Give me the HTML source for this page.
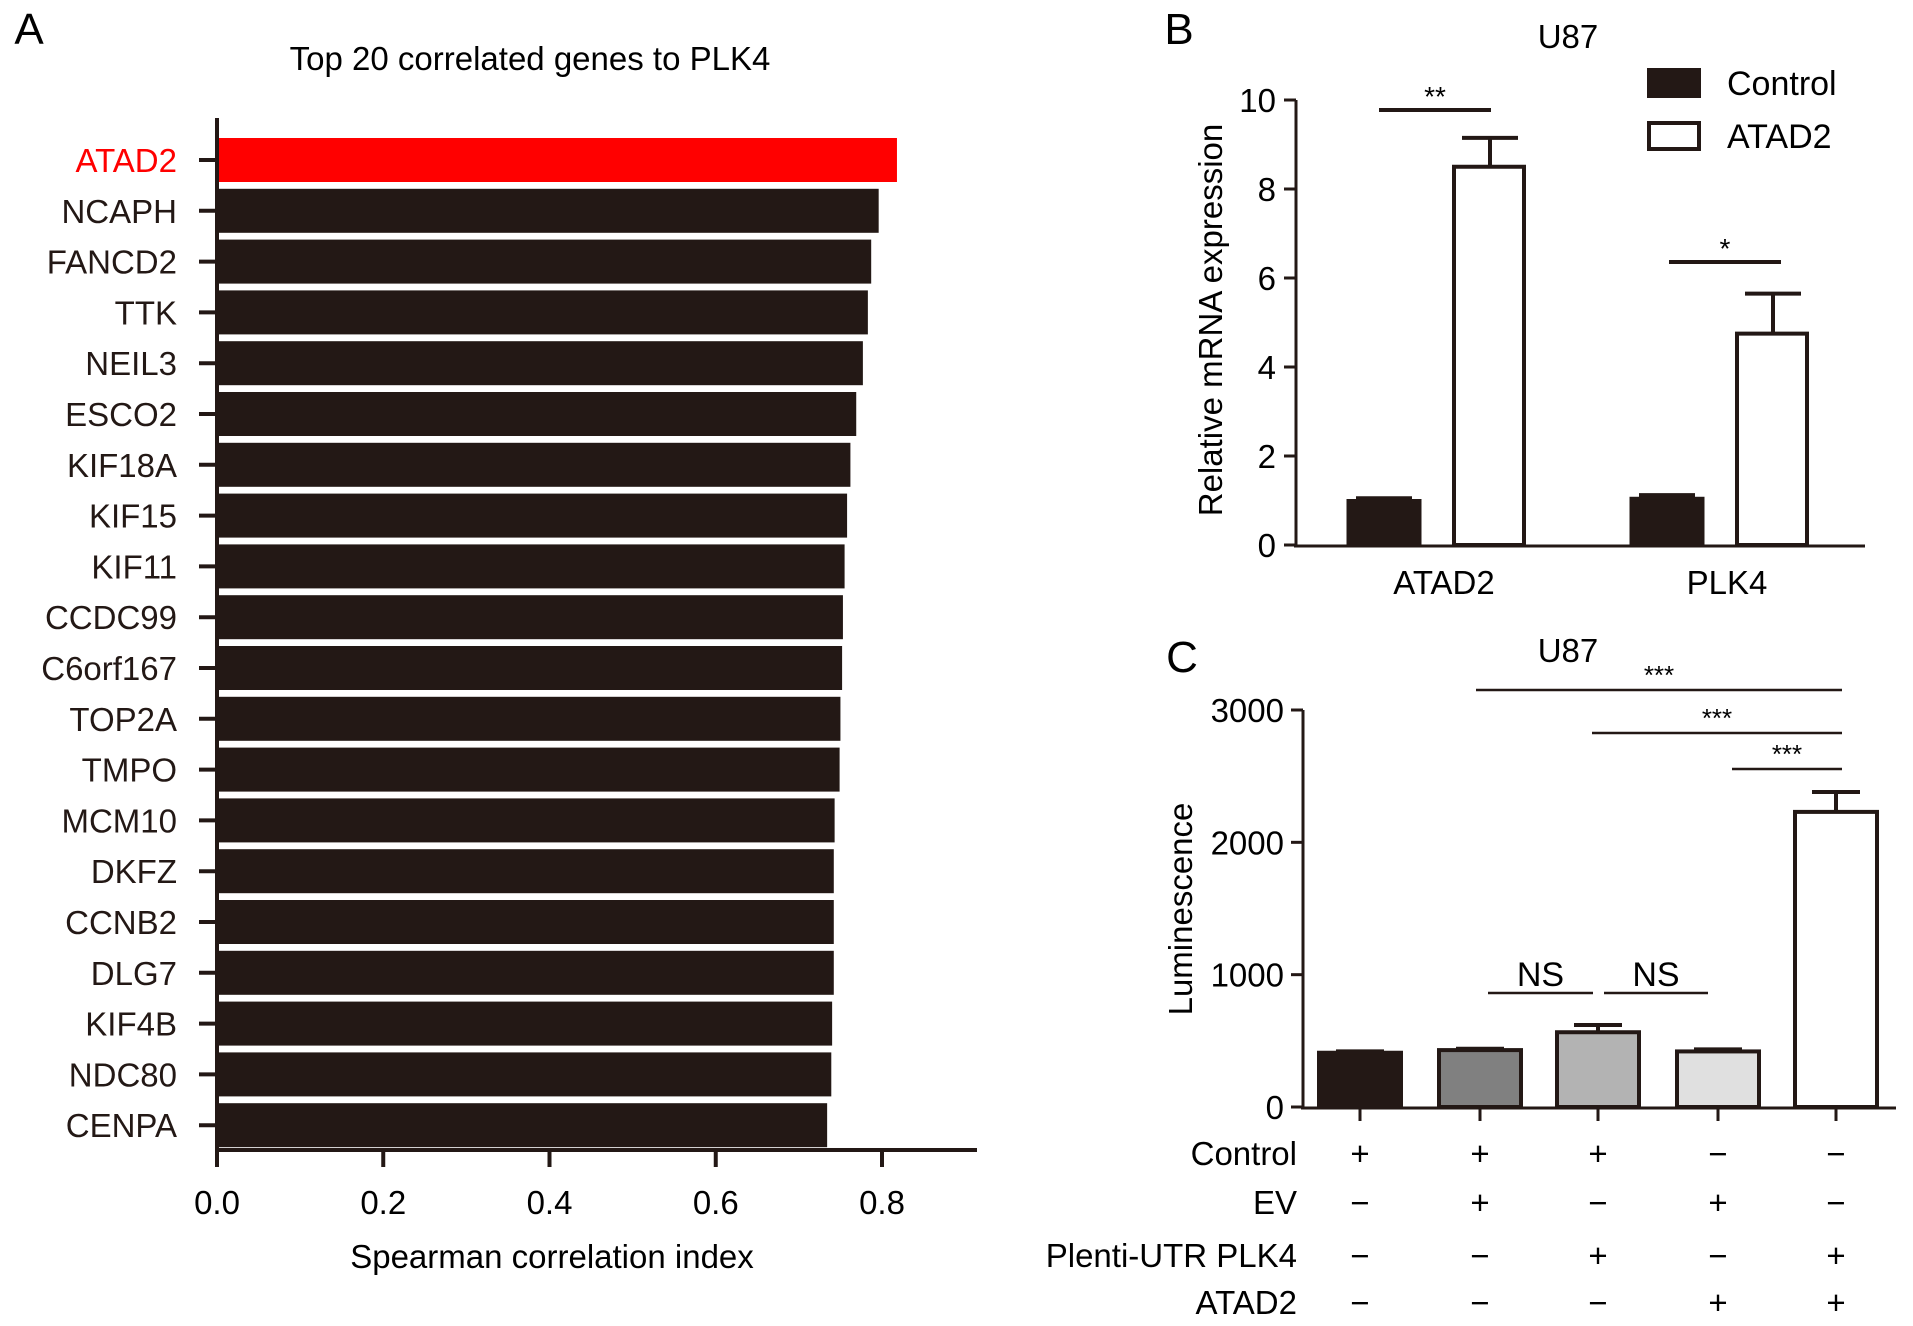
<!DOCTYPE html>
<html><head><meta charset="utf-8"><style>
body{margin:0;background:#fff}
svg{display:block;font-family:"Liberation Sans",Arial,sans-serif}
</style></head><body>
<svg id="fig" width="1913" height="1326" viewBox="0 0 1913 1326">
<g id="A"></g>
<g id="B"></g>
<g id="C"></g>
</svg>
<script>
const genes=["ATAD2","NCAPH","FANCD2","TTK","NEIL3","ESCO2","KIF18A","KIF15","KIF11","CCDC99","C6orf167","TOP2A","TMPO","MCM10","DKFZ","CCNB2","DLG7","KIF4B","NDC80","CENPA"];
const corr=[0.818,0.796,0.787,0.783,0.777,0.769,0.762,0.758,0.755,0.753,0.752,0.750,0.749,0.743,0.742,0.742,0.742,0.740,0.739,0.734];
const corrTicks=[0,0.2,0.4,0.6,0.8];
const bCats=["ATAD2","PLK4"];
const bControl=[1.0,1.05];
const bControlErr=[0.05,0.07];
const bAtad2=[8.5,4.75];
const bAtad2Err=[0.65,0.9];
const bTicks=[0,2,4,6,8,10];
const cValues=[410,430,565,420,2230];
const cErr=[10,10,55,15,150];
const cTicks=[0,1000,2000,3000];
const cRows=["Control","EV","Plenti-UTR PLK4","ATAD2"];
const cSigns=[["+","+","+","−","−"],["−","+","−","+","−"],["−","−","+","−","+"],["−","−","−","+","+"]];
const NS="http://www.w3.org/2000/svg";
const FS=33;
function el(p,t,a,txt){const e=document.createElementNS(NS,t);for(const k in a)e.setAttribute(k,a[k]);if(txt!==undefined)e.textContent=txt;p.appendChild(e);return e;}
// Panel A
const A=document.getElementById('A');
const ax=v=>217+v*(882-217)/0.8;
const ay=i=>160+i*50.8;
let t=el(A,'text',{x:29,y:44,'font-size':44,'text-anchor':'middle'},'A');

t=el(A,'text',{x:530,y:70,'font-size':FS,'text-anchor':'middle'},'Top 20 correlated genes to PLK4');

genes.forEach((g,i)=>{
  const r=el(A,'rect',{x:ax(0),y:ay(i)-22,width:ax(corr[i])-ax(0),height:44,fill:i===0?'#ff0000':'#231815'});
  
  const tk=el(A,'line',{x1:199,x2:217,y1:ay(i),y2:ay(i),stroke:'#231815','stroke-width':4});
  
  const l=el(A,'text',{x:177,y:ay(i)+12,'font-size':FS,'text-anchor':'end',fill:i===0?'#ff0000':'#231815'},g);
  
});
let ln=el(A,'line',{x1:217,x2:217,y1:118,y2:1152,stroke:'#231815','stroke-width':4});

ln=el(A,'line',{x1:215,x2:977,y1:1150,y2:1150,stroke:'#231815','stroke-width':4});

corrTicks.forEach(v=>{
  const tk=el(A,'line',{x1:ax(v),x2:ax(v),y1:1150,y2:1167,stroke:'#231815','stroke-width':4});
  
  const l=el(A,'text',{x:ax(v),y:1214,'font-size':FS,'text-anchor':'middle'},v.toFixed(1));
  
});
t=el(A,'text',{x:552,y:1268,'font-size':FS,'text-anchor':'middle'},'Spearman correlation index');

// Panel B
const B=document.getElementById('B');
const by=v=>545-v*(545-100)/10;
const bCenters=[1437,1720];
t=el(B,'text',{x:1179,y:44,'font-size':44,'text-anchor':'middle'},'B');

t=el(B,'text',{x:1568,y:48,'font-size':FS,'text-anchor':'middle'},'U87');

bCats.forEach((c,i)=>{
  const x1=bCenters[i]-89,x2=bCenters[i]+17;
  let e=el(B,'line',{x1:x1+36,x2:x1+36,y1:by(bControl[i]),y2:by(bControl[i]+bControlErr[i]),stroke:'#231815','stroke-width':4});
  
  e=el(B,'line',{x1:x1+8,x2:x1+64,y1:by(bControl[i]+bControlErr[i]),y2:by(bControl[i]+bControlErr[i]),stroke:'#231815','stroke-width':4});
  
  e=el(B,'rect',{x:x1,y:by(bControl[i]),width:72,height:by(0)-by(bControl[i]),fill:'#231815',stroke:'#231815','stroke-width':3});
  
  e=el(B,'line',{x1:x2+36,x2:x2+36,y1:by(bAtad2[i]),y2:by(bAtad2[i]+bAtad2Err[i]),stroke:'#231815','stroke-width':4});
  
  e=el(B,'line',{x1:x2+8,x2:x2+64,y1:by(bAtad2[i]+bAtad2Err[i]),y2:by(bAtad2[i]+bAtad2Err[i]),stroke:'#231815','stroke-width':4});
  
  e=el(B,'rect',{x:x2,y:by(bAtad2[i]),width:70,height:by(0)-by(bAtad2[i]),fill:'#fff',stroke:'#231815','stroke-width':4});
  
  e=el(B,'text',{x:bCenters[i]+7,y:594,'font-size':FS,'text-anchor':'middle'},c);
  
});
ln=el(B,'line',{x1:1296,x2:1296,y1:100,y2:547,stroke:'#231815','stroke-width':3});

ln=el(B,'line',{x1:1294,x2:1865,y1:546,y2:546,stroke:'#231815','stroke-width':3});

bTicks.forEach(v=>{
  const tk=el(B,'line',{x1:1284,x2:1296,y1:by(v),y2:by(v),stroke:'#231815','stroke-width':3});
  
  const l=el(B,'text',{x:1276,y:by(v)+12,'font-size':FS,'text-anchor':'end'},v);
  
});
t=el(B,'text',{x:1222,y:320,'font-size':FS,'text-anchor':'middle',transform:'rotate(-90 1222 320)'},'Relative mRNA expression');

[[1379,1491,110,'**'],[1669,1781,262,'*']].forEach(s=>{
  let e=el(B,'line',{x1:s[0],x2:s[1],y1:s[2],y2:s[2],stroke:'#231815','stroke-width':4});
  
  e=el(B,'text',{x:(s[0]+s[1])/2,y:s[2]-4,'font-size':28,'text-anchor':'middle'},s[3]);
  
});
[['Control',70,'#231815'],['ATAD2',123,'#fff']].forEach(l=>{
  let e=el(B,'rect',{x:1649,y:l[1],width:50,height:26,fill:l[2],stroke:'#231815','stroke-width':4});
  
  e=el(B,'text',{x:1727,y:l[1]+25,'font-size':34},l[0]);
  
});
// Panel C
const C=document.getElementById('C');
const cy=v=>1107-v*(1107-710)/3000;
const cx=[1360,1480,1598,1718,1836];
const cFill=['#231815','#808080','#b3b3b3','#e0e0e0','#ffffff'];
t=el(C,'text',{x:1182,y:672,'font-size':44,'text-anchor':'middle'},'C');

t=el(C,'text',{x:1568,y:662,'font-size':FS,'text-anchor':'middle'},'U87');

cValues.forEach((v,i)=>{
  let e=el(C,'line',{x1:cx[i],x2:cx[i],y1:cy(v),y2:cy(v+cErr[i]),stroke:'#231815','stroke-width':4});
  
  e=el(C,'line',{x1:cx[i]-24,x2:cx[i]+24,y1:cy(v+cErr[i]),y2:cy(v+cErr[i]),stroke:'#231815','stroke-width':4});
  
  e=el(C,'rect',{x:cx[i]-41,y:cy(v),width:82,height:cy(0)-cy(v),fill:cFill[i],stroke:'#231815','stroke-width':4});
  
  e=el(C,'line',{x1:cx[i],x2:cx[i],y1:1107,y2:1121,stroke:'#231815','stroke-width':3});
  
});
ln=el(C,'line',{x1:1303,x2:1303,y1:710,y2:1109,stroke:'#231815','stroke-width':3});

ln=el(C,'line',{x1:1301,x2:1896,y1:1108,y2:1108,stroke:'#231815','stroke-width':3});

cTicks.forEach(v=>{
  const tk=el(C,'line',{x1:1291,x2:1303,y1:cy(v),y2:cy(v),stroke:'#231815','stroke-width':3});
  
  const l=el(C,'text',{x:1284,y:cy(v)+12,'font-size':FS,'text-anchor':'end'},v);
  
});
t=el(C,'text',{x:1192,y:909,'font-size':FS,'text-anchor':'middle',transform:'rotate(-90 1192 909)'},'Luminescence');

[[1476,1842,690,'***'],[1592,1842,733,'***'],[1732,1842,769,'***']].forEach(s=>{
  let e=el(C,'line',{x1:s[0],x2:s[1],y1:s[2],y2:s[2],stroke:'#231815','stroke-width':2.5});
  
  e=el(C,'text',{x:(s[0]+s[1])/2,y:s[2]-6,'font-size':26,'text-anchor':'middle'},s[3]);
  
});
[[1488,1593],[1604,1708]].forEach(s=>{
  let e=el(C,'line',{x1:s[0],x2:s[1],y1:993,y2:993,stroke:'#231815','stroke-width':2.5});
  
  e=el(C,'text',{x:(s[0]+s[1])/2,y:986,'font-size':34,'text-anchor':'middle'},'NS');
  
});
const rowY=[1165,1214,1267,1314];
cRows.forEach((r,j)=>{
  let e=el(C,'text',{x:1297,y:rowY[j],'font-size':FS,'text-anchor':'end'},r);
  
  cSigns[j].forEach((s,i)=>{
    const m=el(C,'text',{x:cx[i],y:rowY[j],'font-size':FS,'text-anchor':'middle'},s);
    
  });
});
</script>
</body></html>
